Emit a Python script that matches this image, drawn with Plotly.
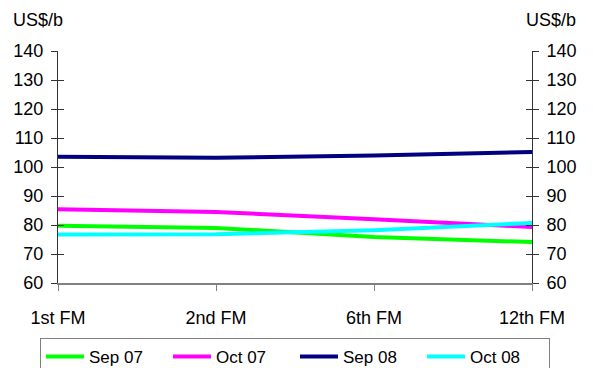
import plotly.graph_objects as go

# Forward-month futures curve, US$ per barrel
months = ["1st FM", "2nd FM", "6th FM", "12th FM"]
sep_07 = [79.7, 79.0, 75.9, 74.1]
oct_07 = [85.4, 84.5, 82.0, 79.3]
sep_08 = [103.5, 103.2, 104.0, 105.2]
oct_08 = [76.7, 76.8, 78.2, 80.7]

y_ticks = [60, 70, 80, 90, 100, 110, 120, 130, 140]

series = [
    ("Sep 07", sep_07, "#00FF00"),
    ("Oct 07", oct_07, "#FF00FF"),
    ("Sep 08", sep_08, "#000080"),
    ("Oct 08", oct_08, "#00FFFF"),
]

FONT = "Liberation Sans, Arial, sans-serif"
FS = 18

fig = go.Figure()
for name, vals, color in series:
    fig.add_trace(go.Scatter(
        x=months, y=vals, name=name, mode="lines",
        line=dict(color=color, width=4),
    ))

# invisible traces to activate the mirror axes (ticks crossing both axis lines)
for ax in ("y2", "y3", "y4"):
    fig.add_trace(go.Scatter(x=months, y=sep_08, yaxis=ax, showlegend=False,
                             line=dict(width=0), hoverinfo="skip", opacity=0))

axis_common = dict(range=[60, 140], tickvals=y_ticks, showgrid=False,
                   zeroline=False, ticklen=6, tickcolor="#333333",
                   automargin=False,
                   tickfont=dict(family=FONT, size=FS, color="#000000"))
no_font = {k: v for k, v in axis_common.items() if k != "tickfont"}

fig.update_layout(
    width=593, height=368,
    margin=dict(l=58, r=61, t=51, b=85, autoexpand=False),
    paper_bgcolor="white", plot_bgcolor="white",
    font=dict(family=FONT, size=FS, color="#000000"),
    xaxis=dict(
        type="category", range=[0, 3], showgrid=False, zeroline=False,
        showline=True, linecolor="#808080", linewidth=1.5, automargin=False,
        ticks="outside", ticklen=6, tickcolor="#808080",
        tickfont=dict(family=FONT, size=FS), ticklabelstandoff=12,
    ),
    yaxis=dict(
        **axis_common, side="left", showline=True, linecolor="#333333",
        linewidth=1, ticks="outside", ticklabelstandoff=4,
    ),
    yaxis2=dict(
        **no_font, overlaying="y", side="left", ticks="inside",
        showticklabels=False, showline=False,
    ),
    yaxis3=dict(
        **axis_common, overlaying="y", side="right", showline=True,
        linecolor="#333333", linewidth=1, ticks="outside",
        ticklabelstandoff=4,
    ),
    yaxis4=dict(
        **no_font, overlaying="y", side="right", ticks="inside",
        showticklabels=False, showline=False,
    ),
    legend=dict(
        orientation="h", xref="paper", yref="paper",
        x=-0.038, xanchor="left", y=-55 / 232, yanchor="top",
        bordercolor="#808080", borderwidth=1, bgcolor="white",
        font=dict(family=FONT, size=FS - 1), entrywidth=74, itemwidth=38,
        traceorder="normal",
    ),
    annotations=[
        dict(text="US$/b", xref="paper", yref="paper", x=-0.1, y=1.0,
             yshift=31, xanchor="left", yanchor="middle", showarrow=False,
             font=dict(family=FONT, size=FS)),
        dict(text="US$/b", xref="paper", yref="paper", x=1.0, xshift=46,
             y=1.0, yshift=31, xanchor="right", yanchor="middle",
             showarrow=False, font=dict(family=FONT, size=FS)),
    ],
)

fig.write_html("out.html")
